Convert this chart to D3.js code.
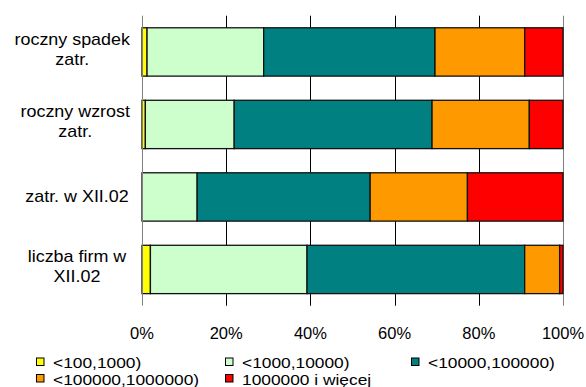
<!DOCTYPE html>
<html>
<head>
<meta charset="utf-8">
<script src="https://cdn.jsdelivr.net/npm/d3@7/dist/d3.min.js"></script>
<style>
  html, body { margin: 0; padding: 0; background: #fff; }
  svg { display: block; font-family: "Liberation Sans", Arial, sans-serif; }
</style>
</head>
<body>
<svg id="chart" width="586" height="387"></svg>
<script>
// Categories, top to bottom (each label split into lines)
const categories = ["roczny spadek zatr.", "roczny wzrost zatr.", "zatr. w XII.02", "liczba firm w XII.02"];
const categoryLines = [["roczny spadek", "zatr."], ["roczny wzrost", "zatr."], ["zatr. w XII.02"], ["liczba firm w", "XII.02"]];

// Series: share (%) of each size class in each category
const seriesNames = ["<100,1000)", "<1000,10000)", "<10000,100000)", "<100000,1000000)", "1000000 i więcej"];
const s100 = [1.2, 0.8, 0.0, 2.0];
const s1000 = [27.7, 21.1, 13.1, 37.2];
const s10000 = [40.7, 47.0, 41.1, 51.7];
const s100000 = [21.3, 23.1, 23.1, 8.3];
const s1000000 = [9.1, 8.0, 22.7, 0.8];
const seriesValues = [s100, s1000, s10000, s100000, s1000000];
const seriesColors = ["#FFFF00", "#CCFFCC", "#008080", "#FF9900", "#FF0000"];

const tickValues = [0, 20, 40, 60, 80, 100];

const svg = d3.select("#chart");
const plot = { left: 142, right: 563, top: 15.7, bottom: 305.7 };

const x = d3.scaleLinear().domain([0, 100]).range([plot.left, plot.right]);
const y = d3.scaleBand().domain(categories).range([plot.top, plot.bottom])
  .paddingInner(1 / 3).paddingOuter(1 / 6);

// Build stacked rows
const rows = categories.map((c, i) => {
  const r = { cat: c };
  seriesNames.forEach((s, k) => { r[s] = seriesValues[k][i]; });
  return r;
});
const stacked = d3.stack().keys(seriesNames)(rows);

// Vertical gridlines
svg.append("g").selectAll("line")
  .data(tickValues.slice(1))
  .join("line")
  .attr("x1", d => Math.round(x(d)) + 0.5).attr("x2", d => Math.round(x(d)) + 0.5)
  .attr("y1", plot.top).attr("y2", plot.bottom)
  .attr("stroke", d => d === 100 ? "#808080" : "#000")
  .attr("stroke-width", 1);

// Stacked bars
svg.append("g").selectAll("g")
  .data(stacked)
  .join("g")
  .attr("fill", (d, k) => seriesColors[k])
  .selectAll("rect")
  .data(d => d.map(v => ({ v, cat: v.data.cat })))
  .join("rect")
  .filter(d => d.v[1] - d.v[0] > 0)
  .attr("x", d => x(d.v[0]))
  .attr("width", d => x(d.v[1]) - x(d.v[0]))
  .attr("y", d => y(d.cat))
  .attr("height", y.bandwidth())
  .attr("stroke", "#111")
  .attr("stroke-width", 1.3);

// Category axis line
svg.append("line")
  .attr("x1", Math.round(x(0)) + 0.5).attr("x2", Math.round(x(0)) + 0.5)
  .attr("y1", plot.top).attr("y2", plot.bottom)
  .attr("stroke", "#808080");

// Percentage tick labels
const fmt = d => d + "%";
svg.append("g").selectAll("text")
  .data(tickValues)
  .join("text")
  .attr("x", d => x(d))
  .attr("y", 338.5)
  .attr("text-anchor", "middle")
  .attr("font-size", 16.5)
  .attr("fill", "#000")
  .text(fmt);

// Category labels, centred left of the axis
const labelCenter = 77, labelRightLimit = 130, lineGap = 20, labelSize = 16, sx = 1.12;
const labelG = svg.append("g");
categoryLines.forEach((lines, i) => {
  const cy = y(categories[i]) + y.bandwidth() / 2;
  const n = lines.length;
  const g = labelG.append("g");
  lines.forEach((t, j) => {
    g.append("text")
      .attr("font-size", labelSize)
      .attr("text-anchor", "middle")
      .attr("fill", "#000")
      .attr("data-y", cy + 5 + (j - (n - 1) / 2) * lineGap - (n - 1) * 2)
      .text(t);
  });
  // widest line decides how far the block can sit to the right
  let maxW = 0;
  g.selectAll("text").each(function () { maxW = Math.max(maxW, this.getComputedTextLength() * sx); });
  const cx = Math.min(labelCenter, labelRightLimit - maxW / 2);
  g.selectAll("text").attr("transform", function () {
    return `translate(${cx},${d3.select(this).attr("data-y")}) scale(${sx},1)`;
  });
});

// Legend
const legendCols = [36, 225, 411];
const legendRows = [357.5, 374];
const legend = svg.append("g").selectAll("g")
  .data(seriesNames)
  .join("g")
  .attr("transform", (d, k) => `translate(${legendCols[k % 3]},${legendRows[Math.floor(k / 3)]})`);
legend.append("rect")
  .attr("x", 0.5).attr("y", 0.5)
  .attr("width", 7.5).attr("height", 7.5)
  .attr("fill", (d, k) => seriesColors[k])
  .attr("stroke", "#000");
legend.append("text")
  .attr("transform", "translate(17,10.8) scale(1.12,1)")
  .attr("font-size", 15.5)
  .attr("fill", "#000")
  .text(d => d);
</script>
</body>
</html>
